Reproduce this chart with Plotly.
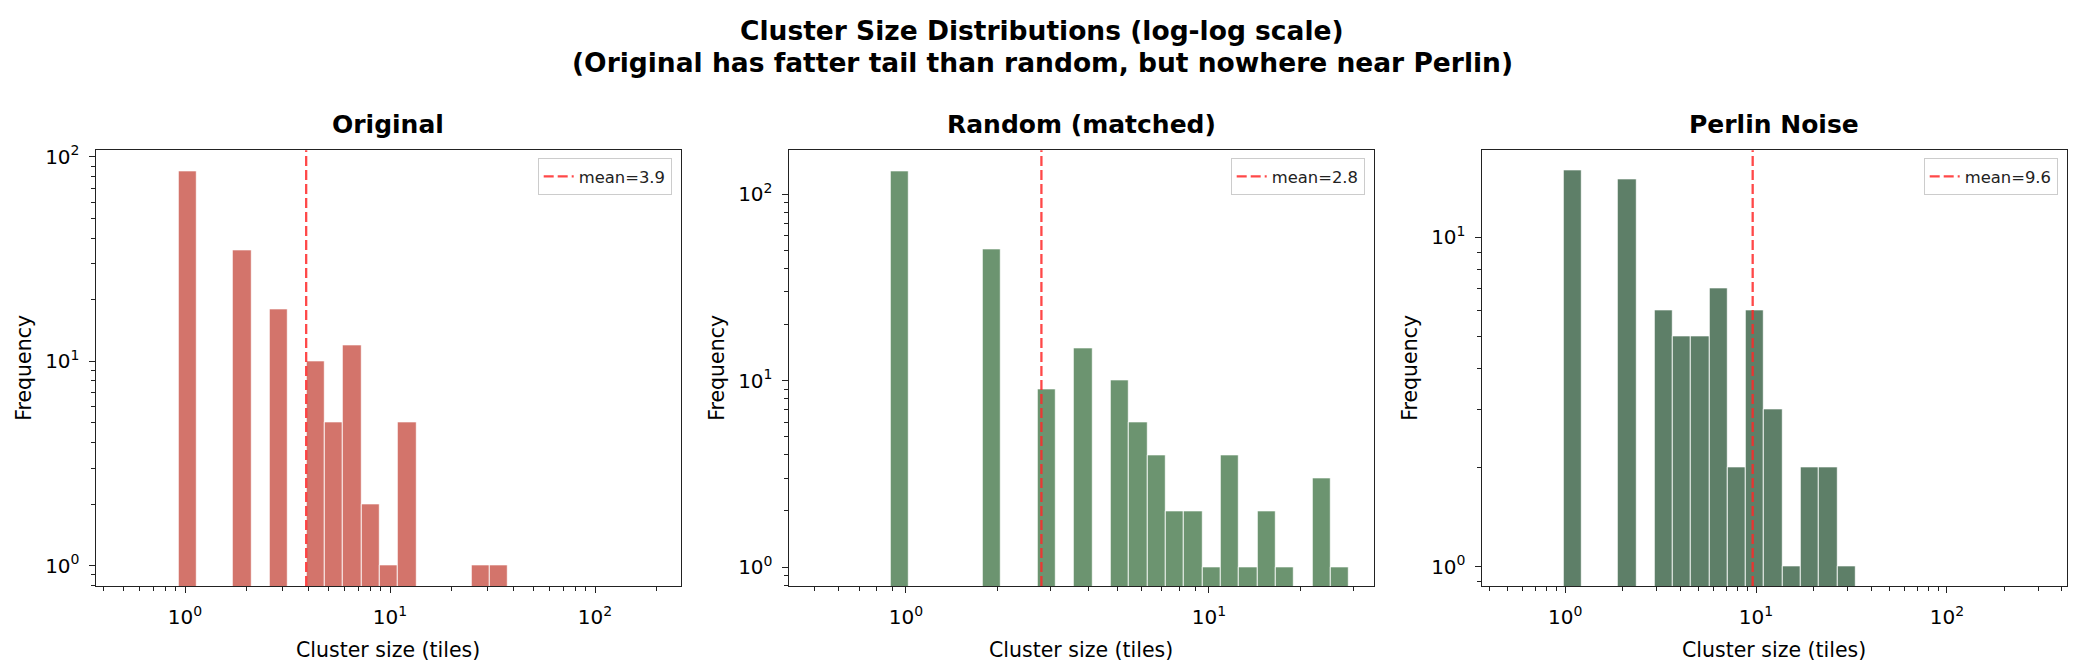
import numpy as np
import plotly.graph_objects as go

# ---------------- data ----------------
panel_titles = ["Original", "Random (matched)", "Perlin Noise"]

# histogram counts per log-spaced bin (0 = empty bin)
orig_counts = [85, 0, 0, 35, 0, 18, 0, 10, 5, 12, 2, 1, 5, 0, 0, 0, 1, 1]
rand_counts = [133, 0, 0, 0, 0, 51, 0, 0, 9, 0, 15, 0, 10, 6, 4, 2, 2, 1, 4, 1, 2, 1, 0, 3, 1]
perlin_counts = [16, 0, 0, 15, 0, 6, 5, 5, 7, 2, 6, 3, 1, 2, 2, 1]

# bin edges: log10 of first and last edge (np.logspace binning)
orig_bin_exp = (-0.033, 1.575)
rand_bin_exp = (-0.051, 1.4625)
perlin_bin_exp = (-0.010, 1.521)

means = [3.9, 2.8, 9.6]

tick_vals = [1, 10, 100]
tick_text = ["10<sup>0</sup>", "10<sup>1</sup>", "10<sup>2</sup>"]

# ---------------- style / layout ----------------
W, H = 2084, 669
bar_colors = ["#d3746b", "#6c9470", "#5e7f68"]
mean_color = "rgba(255,40,40,0.85)"
axis_color = "#222222"
FONT = "DejaVu Sans"

# axes boxes in pixels (left, right), shared top/bottom
x_px = [(95.7, 680.7), (788.7, 1373.7), (1481.7, 2066.7)]
top_px, bot_px = 144.0, 585.0
x_ranges = [(-0.4356, 2.418), (-0.387, 1.544), (-0.437, 2.627)]
y_ranges = [(-0.100, 2.032), (-0.102, 2.237), (-0.059, 1.265)]

minor_vals = [m * 10.0 ** k for k in range(-1, 3) for m in range(2, 10)]

all_counts = [orig_counts, rand_counts, perlin_counts]
all_exp = [orig_bin_exp, rand_bin_exp, perlin_bin_exp]

fig = go.Figure()
annotations = []
layout_axes = {}

y_dom = [1 - bot_px / H, 1 - top_px / H]

for i in range(3):
    sfx = "" if i == 0 else str(i + 1)
    counts = np.array(all_counts[i], dtype=float)
    lo, hi = all_exp[i]
    edges = np.logspace(lo, hi, len(counts) + 1)
    L, R = edges[:-1], edges[1:]
    mask = counts > 0
    fig.add_trace(go.Bar(
        x=((L + R) / 2)[mask], y=counts[mask], width=(R - L)[mask],
        marker=dict(color=bar_colors[i], line=dict(color="white", width=0.8)),
        xaxis="x" + sfx, yaxis="y" + sfx, showlegend=False,
    ))
    legend_name = "legend" + sfx
    fig.add_shape(
        type="line", xref="x" + sfx, yref="y" + sfx + " domain",
        x0=means[i], x1=means[i], y0=0, y1=1,
        line=dict(color=mean_color, width=2.3, dash="10px,4px"),
        showlegend=True, name=f"mean={means[i]}", legend=legend_name,
    )

    xd = [x_px[i][0] / W, x_px[i][1] / W]
    common = dict(
        type="log", showline=True, mirror=True, linecolor=axis_color, linewidth=1.4,
        ticks="outside", ticklen=6, tickwidth=1.3, tickcolor=axis_color,
        tickvals=tick_vals, ticktext=tick_text,
        tickfont=dict(family=FONT, size=20, color="black"),
        showgrid=False, zeroline=False,
        minor=dict(tickvals=minor_vals, ticks="outside", ticklen=3.5,
                   tickwidth=1, tickcolor=axis_color, showgrid=False),
    )
    layout_axes["xaxis" + sfx] = dict(common, domain=xd, anchor="y" + sfx,
                                      range=list(x_ranges[i]), ticklabelstandoff=7)
    layout_axes["yaxis" + sfx] = dict(common, domain=y_dom, anchor="x" + sfx,
                                      range=list(y_ranges[i]), ticklabelstandoff=5)
    layout_axes[legend_name] = dict(
        x=xd[1] - 9 / W, y=y_dom[1] - 8 / H, xanchor="right", yanchor="top",
        bgcolor="rgba(255,255,255,0.85)", bordercolor="#cccccc", borderwidth=1,
        font=dict(family=FONT, size=16.4, color="#222"), itemwidth=30,
    )

    xc = (x_px[i][0] + x_px[i][1]) / 2 / W
    annotations.append(dict(text=f"<b>{panel_titles[i]}</b>", x=xc, y=1 - 118 / H,
                            xref="paper", yref="paper", showarrow=False,
                            xanchor="center", yanchor="middle",
                            font=dict(family=FONT, size=25, color="black")))
    annotations.append(dict(text="Cluster size (tiles)", x=xc, y=1 - 650 / H,
                            xref="paper", yref="paper", showarrow=False,
                            xanchor="center", yanchor="middle",
                            font=dict(family=FONT, size=20.5, color="black")))
    annotations.append(dict(text="Frequency", x=(x_px[i][0] - 72) / W,
                            y=(y_dom[0] + y_dom[1]) / 2,
                            xref="paper", yref="paper", showarrow=False, textangle=-90,
                            xanchor="center", yanchor="middle",
                            font=dict(family=FONT, size=20.5, color="black")))

annotations.append(dict(text="<b>Cluster Size Distributions (log-log scale)</b>",
                        x=0.5, y=1 - 23 / H, xref="paper", yref="paper",
                        showarrow=False, xanchor="center", yanchor="middle",
                        font=dict(family=FONT, size=26.5, color="black")))
annotations.append(dict(text="<b>(Original has fatter tail than random, but nowhere near Perlin)</b>",
                        x=0.5, y=1 - 55 / H, xref="paper", yref="paper",
                        showarrow=False, xanchor="center", yanchor="middle",
                        font=dict(family=FONT, size=26.5, color="black")))

fig.update_layout(
    width=W, height=H, margin=dict(l=0, r=0, t=0, b=0),
    paper_bgcolor="white", plot_bgcolor="white",
    font=dict(family=FONT, color="black"),
    bargap=0, annotations=annotations, **layout_axes,
)

fig.write_html("out.html")
